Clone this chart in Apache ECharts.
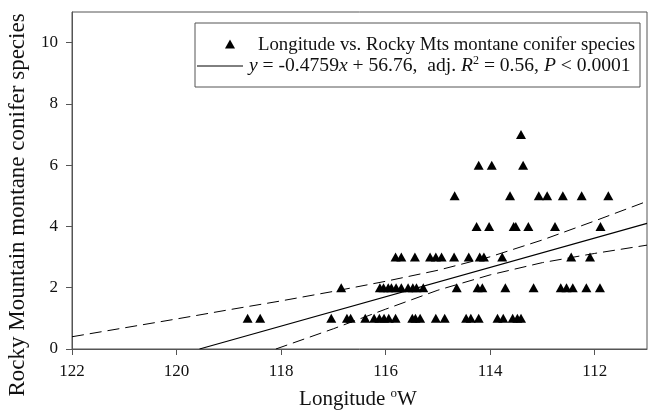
<!DOCTYPE html>
<html>
<head>
<meta charset="utf-8">
<script src="https://cdn.jsdelivr.net/npm/echarts@6/dist/echarts.min.js"></script>
<style>html,body{margin:0;padding:0;background:#fff}#c{width:651px;height:412px}</style>
</head>
<body>
<div id="c"></div>
<script>
// Data (longitude in degrees W, species count)
const lonSp1 = [118.64, 118.40, 117.04, 116.74, 116.67, 116.39, 116.22, 116.12, 116.03, 115.94, 115.81, 115.49, 115.43, 115.34, 115.04, 114.87, 114.46, 114.37, 114.22, 113.86, 113.75, 113.57, 113.48, 113.41];
const lonSp2 = [116.85, 116.11, 116.04, 115.95, 115.89, 115.80, 115.70, 115.57, 115.48, 115.41, 115.28, 114.64, 114.24, 114.15, 113.71, 113.17, 112.65, 112.54, 112.42, 112.16, 111.90];
const lonSp3 = [115.81, 115.70, 115.44, 115.15, 115.04, 114.93, 114.69, 114.41, 114.20, 114.12, 113.77, 112.45, 112.09];
const lonSp4 = [114.26, 114.02, 113.55, 113.51, 113.27, 112.76, 111.89];
const lonSp5 = [114.68, 113.62, 113.07, 112.91, 112.61, 112.25, 111.74];
const lonSp6 = [114.22, 113.97, 113.37];
const lonSp7 = [113.41];

const fitLon = [119.56, 111];
const fitY = [0, 4.1];
const upperLon = [122, 121, 120, 119, 118, 117, 116, 115, 114, 113, 112, 111];
const upperY = [0.40, 0.69, 0.98, 1.28, 1.57, 1.88, 2.21, 2.57, 3.01, 3.56, 4.18, 4.82];
const lowerLon = [118.1, 117, 116, 115, 114, 113, 112, 111];
const lowerY = [0, 0.66, 1.30, 1.92, 2.42, 2.82, 3.12, 3.39];

const xTicks = [122, 120, 118, 116, 114, 112];
const yTicks = [0, 2, 4, 6, 8, 10];

const xTitle = 'Longitude';
const yTitle = 'Rocky Mountain montane conifer species';
const legend1 = 'Longitude vs. Rocky Mts montane conifer species';

const rows = [lonSp1, lonSp2, lonSp3, lonSp4, lonSp5, lonSp6, lonSp7];
const scatterData = [];
rows.forEach((arr, i) => arr.forEach(l => scatterData.push([-l, i + 1])));
const pair = (xs, ys) => xs.map((x, i) => [-x, ys[i]]);

const FONT = '"Liberation Serif", "Times New Roman", serif';
const chart = echarts.init(document.getElementById('c'), null, {renderer: 'canvas'});
chart.setOption({
  animation: false,
  backgroundColor: '#fff',
  grid: {left: 72, right: 4, top: 12, bottom: 63, show: true, borderColor: '#555', borderWidth: 1, backgroundColor: 'transparent'},
  xAxis: {
    type: 'value', min: -122, max: -111, interval: 2,
    axisLine: {lineStyle: {color: '#555', width: 1}},
    axisTick: {show: true, length: 6, lineStyle: {color: '#555'}, customValues: xTicks.map(v => -v)},
    axisLabel: {fontFamily: FONT, fontSize: 17, color: '#111', margin: 14,
      customValues: xTicks.map(v => -v), formatter: v => String(Math.abs(v))},
    splitLine: {show: false}
  },
  yAxis: {
    type: 'value', min: 0, max: 11, interval: 2,
    axisLine: {show: true, lineStyle: {color: '#555', width: 1}},
    axisTick: {show: true, length: 6, lineStyle: {color: '#555'}, customValues: yTicks},
    axisLabel: {fontFamily: FONT, fontSize: 17, color: '#111', margin: 14, customValues: yTicks},
    splitLine: {show: false}
  },
  series: [
    {type: 'line', data: pair(upperLon, upperY), symbol: 'none', smooth: false, lineStyle: {color: '#000', width: 1, type: [12, 6]}, z: 2},
    {type: 'line', data: pair(lowerLon, lowerY), symbol: 'none', smooth: false, lineStyle: {color: '#000', width: 1, type: [12, 6]}, z: 2},
    {type: 'line', data: pair(fitLon, fitY), symbol: 'none', lineStyle: {color: '#000', width: 1.2}, z: 2},
    {type: 'scatter', data: scatterData, symbol: 'triangle', symbolSize: [10, 9], itemStyle: {color: '#000', opacity: 1}, z: 3}
  ],
  graphic: [
    {type: 'rect', shape: {x: 195, y: 23, width: 445, height: 64}, style: {fill: '#fff', stroke: '#555', lineWidth: 1}, z: 10},
    {type: 'polygon', shape: {points: [[230, 39.5], [235, 48.5], [225, 48.5]]}, style: {fill: '#000'}, z: 11},
    {type: 'line', shape: {x1: 197, y1: 66, x2: 243, y2: 66}, style: {stroke: '#000', lineWidth: 1}, z: 11},
    {type: 'text', x: 258, y: 45, z: 11, style: {text: legend1, font: '18.8px ' + FONT, fill: '#111', textVerticalAlign: 'middle'}},
    {type: 'text', x: 249, y: 66, z: 11, style: {
      text: '{i|y}{n| = -0.4759}{i|x}{n| + 56.76,  adj. }{i|R}{s|2}{n| = 0.56, }{i|P}{n| < 0.0001}',
      font: '19.6px ' + FONT, fill: '#111', textVerticalAlign: 'middle',
      rich: {
        i: {fontFamily: FONT, fontSize: 19.6, fontStyle: 'italic', fill: '#111', lineHeight: 22},
        n: {fontFamily: FONT, fontSize: 19.6, fill: '#111', lineHeight: 22},
        s: {fontFamily: FONT, fontSize: 12, fill: '#111', verticalAlign: 'top', lineHeight: 22}
      }}},
    {type: 'text', x: 18, y: 205, rotation: Math.PI / 2, style: {text: yTitle, font: '23px ' + FONT, fill: '#111', textAlign: 'center', textVerticalAlign: 'middle'}},
    {type: 'text', x: 358, y: 399, style: {
      text: '{a|' + xTitle + ' }{s|o}{a|W}', font: '21px ' + FONT, fill: '#111', textAlign: 'center', textVerticalAlign: 'middle',
      rich: {
        a: {fontFamily: FONT, fontSize: 21, fill: '#111', lineHeight: 24},
        s: {fontFamily: FONT, fontSize: 13, fill: '#111', verticalAlign: 'top', lineHeight: 24}
      }}}
  ]
});
</script>
</body>
</html>
